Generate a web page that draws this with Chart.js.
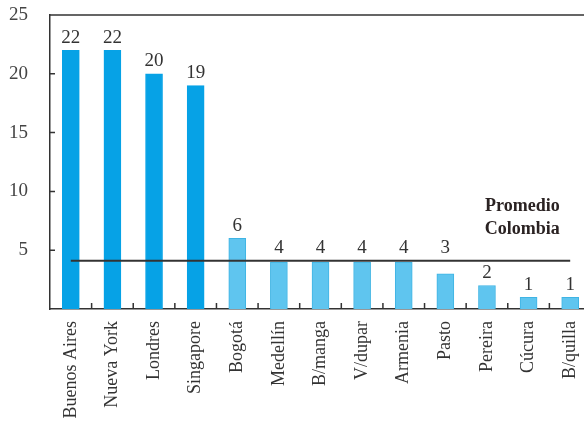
<!DOCTYPE html>
<html>
<head>
<meta charset="utf-8">
<script src="https://cdn.jsdelivr.net/npm/chart.js@4/dist/chart.umd.min.js"></script>
<style>
  html, body { margin: 0; padding: 0; overflow: hidden; background: #fff; }
</style>
</head>
<body>
<canvas id="grafico" width="591" height="426"></canvas>
<script>
const ciudades = ["Buenos Aires", "Nueva York", "Londres", "Singapore", "Bogotá", "Medellín", "B/manga", "V/dupar", "Armenia", "Pasto", "Pereira", "Cúcura", "B/quilla"];
const valores = [22, 22, 20, 19, 6, 4, 4, 4, 4, 3, 2, 1, 1];
const promedio = 4.1;
const ejeY = [5, 10, 15, 20, 25];

const azulFuerte = "#06a2e6";
const azulClaro = "#5fc5ef";
const fuente = "'Liberation Serif', 'DejaVu Serif', serif";

// marcas internas, borde superior y etiquetas de valor
const extras = {
  id: "extras",
  afterDatasetsDraw(chart) {
    const { ctx, chartArea: a, scales: { x, y } } = chart;
    ctx.save();
    ctx.strokeStyle = "#333";
    ctx.lineWidth = 1.5;
    ctx.beginPath();
    ctx.moveTo(a.left, a.top);
    ctx.lineTo(a.right, a.top);
    for (let i = 1; i < ciudades.length; i++) {
      const px = (x.getPixelForValue(i - 1) + x.getPixelForValue(i)) / 2;
      ctx.moveTo(px, a.bottom);
      ctx.lineTo(px, a.bottom - 6);
    }
    ejeY.forEach(v => {
      const py = y.getPixelForValue(v);
      ctx.moveTo(a.left, py);
      ctx.lineTo(a.left + 5, py);
    });
    ctx.stroke();

    const lineaY = y.getPixelForValue(promedio);
    ctx.fillStyle = "#333";
    ctx.font = "19px " + fuente;
    ctx.textAlign = "center";
    ctx.textBaseline = "bottom";
    chart.getDatasetMeta(1).data.forEach((el, i) => {
      let base = el.y - 3;
      // si el número cruza la línea del promedio, se sube
      if (base > lineaY - 2 && base - 16 < lineaY) base = lineaY - 3;
      ctx.fillText(valores[i], el.x, base);
    });

    ctx.fillStyle = "#2a2222";
    ctx.font = "bold 18px " + fuente;
    const lx = x.getPixelForValue(10.85);
    ctx.fillText("Promedio", lx, lineaY - 45);
    ctx.fillText("Colombia", lx, lineaY - 22);
    ctx.restore();
  }
};

new Chart(document.getElementById("grafico"), {
  data: {
    labels: ciudades,
    datasets: [{
      type: "line",
      data: [{ x: ciudades[0], y: promedio }, { x: ciudades[ciudades.length - 1], y: promedio }],
      borderColor: "#333",
      borderWidth: 2,
      pointRadius: 0,
      order: 0
    }, {
      type: "bar",
      data: valores,
      backgroundColor: valores.map((v, i) => i < 4 ? azulFuerte : azulClaro),
      borderColor: valores.map((v, i) => i < 4 ? azulFuerte : "#3fb4e4"),
      borderWidth: 1,
      barThickness: 17,
      order: 1
    }]
  },
  options: {
    responsive: false,
    animation: false,
    layout: { padding: { top: 15, left: 0, right: 0, bottom: 0 } },
    plugins: { legend: { display: false }, tooltip: { enabled: false } },
    scales: {
      x: {
        offset: true,
        grid: { display: false },
        border: { color: "#333", width: 1.5 },
        ticks: {
          color: "#333",
          font: { family: fuente, size: 18 },
          minRotation: 90,
          maxRotation: 90,
          autoSkip: false,
          padding: 4
        },
        afterFit: s => { s.height = 117; s.paddingLeft = 0; s.paddingRight = 0; }
      },
      y: {
        min: 0,
        max: 25,
        grid: { display: false },
        border: { color: "#333", width: 1.5 },
        ticks: {
          stepSize: 5,
          color: "#444",
          font: { family: fuente, size: 19 },
          padding: 14,
          callback: v => ejeY.includes(v) ? v : ""
        },
        afterFit: s => { s.width = 50; s.paddingTop = 0; s.paddingBottom = 0; }
      }
    }
  },
  plugins: [extras]
});
</script>
</body>
</html>
